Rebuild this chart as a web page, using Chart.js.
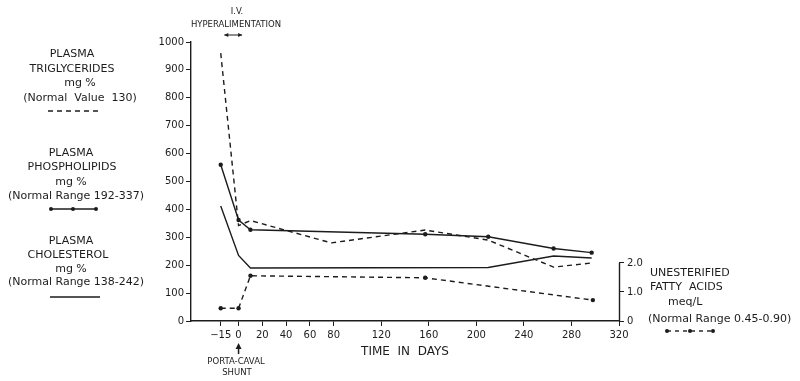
<!DOCTYPE html>
<html>
<head>
<meta charset="utf-8">
<script src="https://cdn.jsdelivr.net/npm/chart.js@4/dist/chart.umd.min.js"></script>
<style>
  html, body { margin: 0; background: #fff; }
  #wrap { width: 800px; height: 381px; }
</style>
</head>
<body>
<div id="wrap"><canvas id="lipids" width="800" height="381"></canvas></div>
<script>
'use strict';

// --- data ---
const xTicks = [-15, 0, 20, 40, 60, 80, 120, 160, 200, 240, 280, 320];
const leftTicks = [0, 100, 200, 300, 400, 500, 600, 700, 800, 900, 1000];
const rightTicks = [0, 1, 2];

// triglycerides mg %
const tgDays = [-15, 0, 10, 78, 157, 210, 265, 297];
const tgVals = [960, 342, 360, 280, 326, 290, 193, 208];

// phospholipids mg %
const plDays = [-15, 0, 10, 157, 210, 265, 297];
const plVals = [560, 362, 327, 311, 302, 260, 245];

// cholesterol mg %
const chDays = [-15, 0, 10, 210, 265, 297];
const chVals = [412, 235, 190, 192, 233, 226];

// unesterified fatty acids meq/L (right axis)
const faDays = [-15, 0, 10, 157, 298];
const faVals = [0.44, 0.44, 1.56, 1.49, 0.72];

const INK = '#1c1c1c';
const FONT = "'DejaVu Sans', sans-serif";

const pts = (xs, ys) => xs.map((x, i) => ({ x, y: ys[i] }));

// legends, annotations and the short right axis line
const annotate = {
  id: 'annotate',
  afterDraw(chart) {
    const ctx = chart.ctx;
    const { x, y2 } = chart.scales;
    ctx.save();
    ctx.strokeStyle = INK;
    ctx.fillStyle = INK;
    ctx.lineWidth = 1.4;

    // right axis line only 0..2.0
    const rx = Math.round(y2.left) + 0.5;
    ctx.beginPath();
    ctx.moveTo(rx, y2.getPixelForValue(0));
    ctx.lineTo(rx, y2.getPixelForValue(2));
    ctx.stroke();

    ctx.textBaseline = 'middle';
    ctx.textAlign = 'center';
    ctx.font = '11px ' + FONT;
    const txt = (s, tx, ty) => ctx.fillText(s, tx, ty);

    // left legend blocks
    txt('PLASMA', 72, 54);
    txt('TRIGLYCERIDES', 72, 69);
    txt('mg %', 80, 83);
    txt('(Normal  Value  130)', 80, 98);
    txt('PLASMA', 71, 153);
    txt('PHOSPHOLIPIDS', 72, 167);
    txt('mg %', 71, 182);
    txt('(Normal Range 192-337)', 76, 196);
    txt('PLASMA', 71, 241);
    txt('CHOLESTEROL', 68, 255);
    txt('mg %', 71, 269);
    txt('(Normal Range 138-242)', 76, 282);

    const dot = (cx, cy) => { ctx.beginPath(); ctx.arc(cx, cy, 2, 0, Math.PI * 2); ctx.fill(); };

    ctx.setLineDash([5, 4]);
    ctx.beginPath(); ctx.moveTo(48, 111); ctx.lineTo(100, 111); ctx.stroke();
    ctx.setLineDash([]);
    ctx.beginPath(); ctx.moveTo(51, 209); ctx.lineTo(96, 209); ctx.stroke();
    [51, 73, 96].forEach(d => dot(d, 209));
    ctx.beginPath(); ctx.moveTo(50, 297); ctx.lineTo(100, 297); ctx.stroke();

    // right legend
    ctx.textAlign = 'left';
    txt('UNESTERIFIED', 650, 273);
    txt('FATTY  ACIDS', 650, 287);
    txt('meq/L', 668, 302);
    txt('(Normal Range 0.45-0.90)', 648, 319);
    ctx.setLineDash([4, 4]);
    ctx.beginPath(); ctx.moveTo(667, 331); ctx.lineTo(713, 331); ctx.stroke();
    ctx.setLineDash([]);
    [667, 690, 713].forEach(d => dot(d, 331));

    // I.V. hyperalimentation
    ctx.textAlign = 'center';
    ctx.font = '8.5px ' + FONT;
    txt('I.V.', 237, 12);
    txt('HYPERALIMENTATION', 236, 25);
    const a0 = x.getPixelForValue(-12), a1 = x.getPixelForValue(3);
    ctx.lineWidth = 1;
    ctx.beginPath(); ctx.moveTo(a0, 35); ctx.lineTo(a1, 35); ctx.stroke();
    ctx.beginPath();
    ctx.moveTo(a0, 35); ctx.lineTo(a0 + 4, 33); ctx.lineTo(a0 + 4, 37); ctx.closePath();
    ctx.moveTo(a1, 35); ctx.lineTo(a1 - 4, 33); ctx.lineTo(a1 - 4, 37); ctx.closePath();
    ctx.fill();

    // porta-caval shunt
    const sx = x.getPixelForValue(0);
    ctx.lineWidth = 1.5;
    ctx.beginPath(); ctx.moveTo(sx, 348); ctx.lineTo(sx, 354); ctx.stroke();
    ctx.beginPath();
    ctx.moveTo(sx, 343); ctx.lineTo(sx - 3, 349); ctx.lineTo(sx + 3, 349); ctx.closePath();
    ctx.fill();
    txt('PORTA-CAVAL', 236, 362);
    txt('SHUNT', 237, 373);

    ctx.restore();
  },
};

const line = (data, opts) => Object.assign({
  data,
  borderColor: INK,
  borderWidth: 1.4,
  pointRadius: 0,
  pointBackgroundColor: INK,
  pointBorderWidth: 0,
  tension: 0,
  fill: false,
  yAxisID: 'y',
}, opts);

new Chart(document.getElementById('lipids'), {
  type: 'line',
  data: {
    datasets: [
      line(pts(tgDays, tgVals), { label: 'Triglycerides', borderDash: [5, 4] }),
      line(pts(plDays, plVals), { label: 'Phospholipids', pointRadius: 2.2 }),
      line(pts(chDays, chVals), { label: 'Cholesterol' }),
      line(pts(faDays, faVals), { label: 'Fatty acids', borderDash: [5, 4], pointRadius: 2.2, yAxisID: 'y2' }),
    ],
  },
  plugins: [annotate],
  options: {
    responsive: false,
    animation: false,
    devicePixelRatio: 1,
    layout: { padding: { top: 42, left: 0, right: 0, bottom: 0 } },
    plugins: { legend: { display: false }, tooltip: { enabled: false } },
    scales: {
      x: {
        type: 'linear',
        min: -40,
        max: 320,
        afterBuildTicks: s => { s.ticks = xTicks.map(v => ({ value: v })); },
        afterFit: s => { s.height = 60; },
        grid: { drawOnChartArea: false, tickLength: 5, color: INK, lineWidth: 1 },
        border: { color: INK, width: 1.4 },
        ticks: {
          color: INK,
          font: { family: FONT, size: 10 },
          padding: 3,
          maxRotation: 0,
          autoSkip: false,
          callback: v => (v < 0 ? '\u2212' + Math.abs(v) : String(v)),
        },
        title: {
          display: true,
          text: 'TIME  IN  DAYS',
          color: INK,
          font: { family: FONT, size: 12 },
          padding: { top: 4, bottom: 22 },
        },
      },
      y: {
        position: 'left',
        min: 0,
        max: 1000,
        afterBuildTicks: s => { s.ticks = leftTicks.map(v => ({ value: v })); },
        afterFit: s => { s.width = 191; },
        grid: { drawOnChartArea: false, tickLength: 5, color: INK, lineWidth: 1 },
        border: { color: INK, width: 1.4 },
        ticks: { color: INK, font: { family: FONT, size: 10 }, padding: 2, callback: v => String(v) },
      },
      y2: {
        position: 'right',
        min: 0,
        max: 9.62,
        afterBuildTicks: s => { s.ticks = rightTicks.map(v => ({ value: v })); },
        afterFit: s => { s.width = 181; },
        grid: { drawOnChartArea: false, tickLength: 5, color: INK, lineWidth: 1 },
        border: { display: false },
        ticks: {
          color: INK,
          font: { family: FONT, size: 10 },
          padding: 3,
          callback: v => (v === 0 ? '0' : v.toFixed(1)),
        },
      },
    },
  },
});
</script>
</body>
</html>
